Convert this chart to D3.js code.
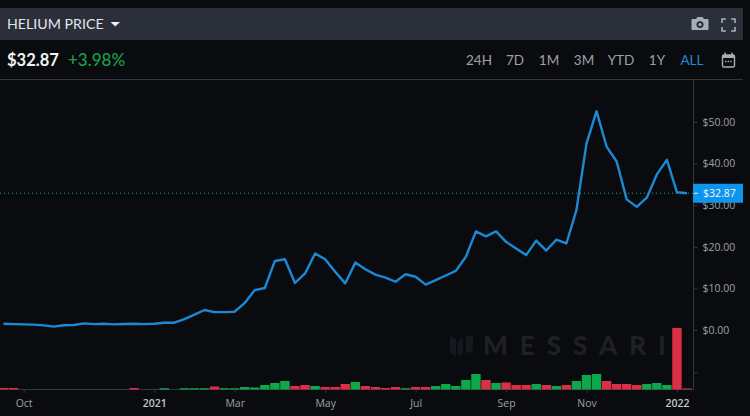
<!DOCTYPE html>
<html><head><meta charset="utf-8">
<script src="https://cdn.jsdelivr.net/npm/d3@7/dist/d3.min.js"></script>
<style>html,body{margin:0;padding:0;background:#0a0b0e;overflow:hidden}svg{display:block}</style>
</head><body><svg id="c" width="750" height="416"></svg>
<script>
const title = "HELIUM PRICE";
const lastPrice = 32.87;
const priceLabel = "$32.87";
const changeLabel = "+3.98%";
const ranges = ["24H","7D","1M","3M","YTD","1Y","ALL"];
const firstWeek = "2020-09-21";
const prices = [1.5,1.4,1.35,1.3,1.1,0.8,1.15,1.2,1.6,1.4,1.5,1.35,1.45,1.5,1.4,1.5,1.75,1.75,2.6,3.7,4.8,4.3,4.3,4.4,6.5,9.6,10.1,16.6,17,11.3,13.6,18.4,17,14,11.2,16.2,14.6,13.3,12.6,11.6,13.4,12.8,10.9,12,13.1,14.2,17.6,23.7,22.5,23.7,21.2,19.6,18,21.5,19.1,21.7,20.8,28.8,44.8,52.6,44.1,40.5,31.4,29.6,31.8,37.4,40.9,33.1,32.87];
const volumes = [1.5,1.5,0,0,0,0,0,0,0,0,0,0,0,1.5,0,0,1.3,0,1.3,1.3,1.3,3,1.3,1.3,2.5,2,4.5,6.5,8.5,3.5,4.5,3.5,2.5,2.5,5.5,7.5,3.5,2.5,1.5,2.5,1.3,2.5,2.5,3.5,5.5,3.5,9.5,15.5,9.5,6.5,7,4.5,4.5,5.5,4.5,3.5,4.5,8.5,14.5,15.5,8.5,5.5,5.5,4.5,5.5,6.5,4.5,61.6,1];
const volumeUp = [0,0,0,0,0,0,0,0,0,0,0,0,0,0,0,0,1,0,1,1,1,0,1,1,1,1,1,1,1,0,0,1,0,0,0,1,0,0,0,0,1,0,0,1,1,1,1,1,0,1,0,0,0,1,0,1,0,1,1,1,0,0,0,0,1,1,1,0,0];
const xTickDates = ["2020-10-05","2021-01-04","2021-03-01","2021-05-03","2021-07-05","2021-09-06","2021-11-01","2022-01-03"];
const xTickLabels = ["Oct","2021","Mar","May","Jul","Sep","Nov","2022"];
const yTicks = [0,10,20,30,40,50];

const parse = d3.utcParse("%Y-%m-%d");
const start = parse(firstWeek);
const dates = prices.map((_, i) => d3.utcDay.offset(start, i * 7));
const svg = d3.select("#c");
const W = 750, axisX = 693.5, baseY = 389.5;
const font = "Lato, sans-serif", tickFont = "'Open Sans', sans-serif";

const x = d3.scaleUtc().domain([dates[0], dates[dates.length - 1]]).range([3.5, 687]);
const y = d3.scaleLinear().domain([0, 50]).range([330, 122]);
const v = d3.scaleLinear().domain([0, 61.6]).range([baseY, 327.9]);

// header
svg.append("rect").attr("width", W).attr("height", 416).attr("fill", "#0a0b0e");
svg.append("rect").attr("x", 0).attr("y", 8).attr("width", 743).attr("height", 32).attr("fill", "#2a2f3a");
svg.append("text").attr("x", 7).attr("y", 29).attr("fill", "#e4e6ea").attr("font-family", font).attr("font-size", 14.2).text(title);
svg.append("path").attr("d", "M110.5 22 h9.5 l-4.75 4.5 z").attr("fill", "#eef0f3");
svg.append("text").attr("x", 7).attr("y", 66).attr("fill", "#f2f3f5").attr("font-family", font).attr("font-size", 16.5).attr("font-weight", 700).text(priceLabel);
svg.append("text").attr("x", 68).attr("y", 66).attr("fill", "#17a04c").attr("font-family", font).attr("font-size", 17).attr("font-weight", 500).text(changeLabel);

// range selector
const rangeX = [479, 515, 549, 584, 621, 657, 692];
svg.selectAll("text.range").data(ranges).join("text").attr("class", "range")
  .attr("x", (d, i) => rangeX[i]).attr("y", 65).attr("text-anchor", "middle")
  .attr("fill", d => d === "ALL" ? "#1f8bd8" : "#9da1a8")
  .attr("font-family", font).attr("font-size", 13.5).text(d => d);

// icons
const ic = svg.append("g").attr("fill", "#a9adb5");
ic.append("path").attr("fill-rule", "evenodd").attr("d", "M692 19 h4 l1.5 -2 h5 l1.5 2 h3.5 a1 1 0 0 1 1 1 v9 a1 1 0 0 1 -1 1 h-15 a1 1 0 0 1 -1 -1 v-9 a1 1 0 0 1 1 -1 z M700 21 a3.6 3.6 0 1 0 0.01 0 z");
ic.append("circle").attr("cx", 700).attr("cy", 24.6).attr("r", 1.6);
ic.append("path").attr("fill", "none").attr("stroke", "#a9adb5").attr("stroke-width", 1.6)
  .attr("d", "M722 23 v-4 h4 M731 19 h4 v4 M735 27 v4 h-4 M726 31 h-4 v-4");
const cal = svg.append("g").attr("stroke", "#a9adb5").attr("fill", "none");
cal.append("rect").attr("x", 722.5).attr("y", 55).attr("width", 12).attr("height", 12).attr("rx", 1.5).attr("stroke-width", 1.4);
cal.append("path").attr("stroke-width", 1.4).attr("d", "M725 52.5 v3 M732 52.5 v3");
cal.append("rect").attr("x", 722.5).attr("y", 55).attr("width", 12).attr("height", 3).attr("fill", "#a9adb5").attr("stroke", "none");
cal.append("path").attr("stroke-width", 1.4).attr("stroke-dasharray", "1.4 1.2").attr("d", "M725 61.5 h7");

// frame lines
svg.append("line").attr("x1", 0).attr("x2", 743).attr("y1", 79.5).attr("y2", 79.5).attr("stroke", "#34373d");
svg.append("line").attr("x1", axisX).attr("x2", axisX).attr("y1", 80).attr("y2", baseY).attr("stroke", "#34373d");
svg.append("line").attr("x1", 0).attr("x2", axisX).attr("y1", baseY).attr("y2", baseY).attr("stroke", "#34373d");

// watermark
svg.append("text").attr("x", 483).attr("y", 355).attr("fill", "#1e2024").attr("font-family", font)
  .attr("font-size", 26).attr("font-weight", 900).attr("letter-spacing", 12).text("MESSARI");
svg.append("path").attr("fill", "#14181f").attr("d", "M450 336 l6 3 v17 l-6 -3 z M458 341 l5 -3 v15 l-5 3 z M466 337 l7 -2 v15 l-7 4 z");

// price reference line
svg.append("line").attr("x1", 0).attr("x2", axisX).attr("y1", y(lastPrice)).attr("y2", y(lastPrice))
  .attr("stroke", "#24a0a0").attr("stroke-width", 1).attr("stroke-dasharray", "1 3");

// volume bars
const bw = 9.4;
svg.append("g").selectAll("rect").data(volumes.map((d, i) => ({d, i}))).join("rect")
  .attr("x", o => x(dates[o.i]) - bw / 2).attr("width", bw)
  .attr("y", o => v(o.d)).attr("height", o => baseY - v(o.d))
  .attr("fill", o => volumeUp[o.i] ? "#0ea84c" : "#dc2f46");

// price line
const line = d3.line().x((d, i) => x(dates[i])).y(d => y(d));
svg.append("path").datum(prices).attr("d", line).attr("fill", "none")
  .attr("stroke", "#1a8ad6").attr("stroke-width", 2.4).attr("stroke-linejoin", "round");

// x axis
const xAxis = d3.axisBottom(x).tickValues(xTickDates.map(parse)).tickSize(3)
  .tickFormat(d => xTickLabels[xTickDates.indexOf(d3.utcFormat("%Y-%m-%d")(d))]);
const gx = svg.append("g").attr("transform", `translate(0,${baseY})`).call(xAxis);
gx.select(".domain").remove();
gx.selectAll("line").attr("stroke", "#34373d");
gx.selectAll("text").attr("y", 10).attr("dy", "0.71em").attr("font-family", tickFont).attr("font-size", 10.5)
  .attr("fill", (d, i) => /^20/.test(xTickLabels[i]) ? "#c4c7cc" : "#9da1a8")
  .attr("font-weight", (d, i) => /^20/.test(xTickLabels[i]) ? 600 : 400);

// y axis
const yAxis = d3.axisRight(y).tickValues(yTicks).tickSize(4).tickPadding(5).tickFormat(d3.format("$.2f"));
const gy = svg.append("g").attr("transform", `translate(${axisX},0)`).call(yAxis);
gy.select(".domain").remove();
gy.selectAll("line").attr("stroke", "#34373d");
gy.selectAll("text").attr("font-family", tickFont).attr("font-size", 10.5).attr("fill", "#9da1a8");
const gv = svg.append("g").attr("transform", `translate(${axisX},0)`).call(d3.axisRight(v).tickValues([17]).tickSize(4).tickFormat(""));
gv.select(".domain").remove();
gv.selectAll("line").attr("stroke", "#34373d");

// last price tag
svg.append("rect").attr("x", 693).attr("y", y(lastPrice) - 9.5).attr("width", 50).attr("height", 19).attr("fill", "#0f94ec");
svg.append("line").attr("x1", 694).attr("x2", 698).attr("y1", y(lastPrice)).attr("y2", y(lastPrice)).attr("stroke", "#dff1ff");
svg.append("text").attr("x", 703).attr("y", y(lastPrice)).attr("dy", "0.35em").attr("fill", "#f2f8ff")
  .attr("font-family", tickFont).attr("font-size", 10.5).text(priceLabel);
</script></body></html>
